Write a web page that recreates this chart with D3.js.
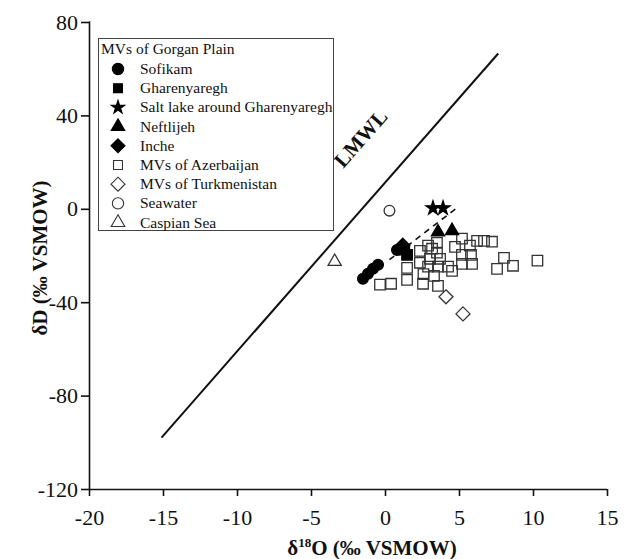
<!DOCTYPE html>
<html><head><meta charset="utf-8">
<script src="https://cdn.jsdelivr.net/npm/d3@7"></script>
<style>body{margin:0;background:#fff}svg{display:block}</style>
</head><body>
<script>
// ---- data ----
const sofikam = [[-1.49,-30.0],[-1.15,-27.8],[-0.81,-25.7],[-0.47,-24.0],[0.81,-17.6],[1.08,-16.7]];
const gharenyaregh = [[1.49,-19.7],[1.3,-17.5]];
const saltLake = [[3.24,0.3],[3.92,0.3]];
const neftlijeh = [[3.58,-10.0],[4.53,-9.4]];
const inche = [[1.2,-15.6]];
const azerbaijan = [[-0.34,-32.5],[0.41,-32.1],[1.49,-30.4],[1.49,-25.3],[2.36,-23.1],[2.57,-32.1],[3.31,-28.7],[3.58,-33.0],
  [2.91,-15.8],[3.51,-14.6],[3.18,-17.1],[3.51,-18.8],[3.04,-21.4],[3.72,-21.4],[2.91,-24.8],[3.58,-24.8],[4.26,-24.8],
  [4.53,-26.6],[4.73,-16.3],[5.20,-12.8],[5.74,-15.8],[5.20,-19.7],[5.81,-19.7],[5.20,-23.6],[5.88,-23.6],[6.22,-13.7],
  [6.69,-13.7],[7.23,-14.1],[8.04,-21.0],[7.57,-25.7],[8.65,-24.4],[10.3,-22.2],[2.36,-18.0],[2.6,-28.0]];
const turkmenistan = [[4.12,-37.7],[5.27,-45.0]];
const seawater = [[0.3,-0.8]];
const caspian = [[-3.4,-22.6]];
const lmwl = [[-15.1,-98],[7.65,66.5]];
const trend = [[0.3,-21.8],[4.9,0.6]];
const xTicks = [-20,-15,-10,-5,0,5,10,15];
const yTicks = [-120,-80,-40,0,40,80];
const legendLabels = ["Sofikam","Gharenyaregh","Salt lake around Gharenyaregh","Neftlijeh","Inche",
  "MVs of Azerbaijan","MVs of Turkmenistan","Seawater","Caspian Sea"];

// ---- chart ----
const W=626,H=559;
const FF="Liberation Serif, DejaVu Serif, serif";
const svg=d3.select("body").append("svg").attr("width",W).attr("height",H)
  .attr("font-family",FF);
const x=d3.scaleLinear().domain([-20,15]).range([89,607]);
const y=d3.scaleLinear().domain([-120,80]).range([489,22]);

const xa=svg.append("g").attr("transform","translate(0,489)")
  .call(d3.axisBottom(x).tickValues(xTicks).tickSize(7).tickPadding(13).tickFormat(d=>String(d)));
const ya=svg.append("g").attr("transform","translate(89,0)")
  .call(d3.axisLeft(y).tickValues(yTicks).tickSize(8).tickPadding(3).tickFormat(d=>String(d)));
[xa,ya].forEach(a=>{
  a.attr("font-family",FF).attr("font-size",22);
  a.selectAll("path").attr("stroke","#111").attr("stroke-width",1.6);
  a.selectAll("line").attr("stroke","#111").attr("stroke-width",1.6);
  a.selectAll("text").attr("fill","#111").attr("font-family",FF);
});
ya.select("path").attr("d","M0,"+y(80)+"H0.5V"+y(-120));
xa.select("path").attr("d","M"+x(-20)+",0.5H"+x(15));

// axis titles
const xt=svg.append("text").attr("x",372).attr("y",555).attr("text-anchor","middle").attr("font-family",FF)
  .attr("font-size",21).attr("font-weight","bold").attr("fill","#111");
xt.append("tspan").text("δ");
xt.append("tspan").text("18").attr("font-size",13).attr("dy",-8);
xt.append("tspan").text("O (‰ VSMOW)").attr("dy",8);
svg.append("text").attr("transform","translate(47,258) rotate(-90)").attr("text-anchor","middle").attr("font-family",FF)
  .attr("font-size",21).attr("font-weight","bold").attr("fill","#111").text("δD (‰ VSMOW)");

// lines
const line=d3.line().x(d=>x(d[0])).y(d=>y(d[1]));
svg.append("path").attr("d",line(lmwl)).attr("stroke","#111").attr("stroke-width",2).attr("fill","none");
svg.append("path").attr("d",line(trend)).attr("stroke","#111").attr("stroke-width",1.6)
  .attr("stroke-dasharray","6,5").attr("fill","none");
const ang=Math.atan2(y(lmwl[1][1])-y(lmwl[0][1]),x(lmwl[1][0])-x(lmwl[0][0]))*180/Math.PI;
svg.append("text").attr("transform",`translate(366,143) rotate(${ang})`).attr("text-anchor","middle").attr("font-family",FF)
  .attr("font-size",21).attr("font-weight","bold").attr("fill","#111").text("LMWL");

// symbols
const diamondPath=s=>`M0,${-s}L${s},0L0,${s}L${-s},0Z`;
const sym={
  circle:d3.symbol().type(d3.symbolCircle).size(90)(),
  square:d3.symbol().type(d3.symbolSquare).size(110)(),
  star:d3.symbol().type(d3.symbolStar).size(60)(),
  triangle:d3.symbol().type(d3.symbolTriangle).size(75)(),
  diamond:diamondPath(7)
};
const series=[
  {d:sofikam,s:"circle",f:"#000"},
  {d:gharenyaregh,s:"square",f:"#000"},
  {d:saltLake,s:"star",f:"#000"},
  {d:neftlijeh,s:"triangle",f:"#000"},
  {d:inche,s:"diamond",f:"#000"},
  {d:azerbaijan,s:"square",f:"none"},
  {d:turkmenistan,s:"diamond",f:"none"},
  {d:seawater,s:"circle",f:"none"},
  {d:caspian,s:"triangle",f:"none"}
];
const drawOrder=[5,6,7,8,0,1,2,3,4];
drawOrder.forEach(i=>{
  const se=series[i];
  svg.append("g").selectAll("path").data(se.d).join("path")
    .attr("d",sym[se.s]).attr("transform",d=>`translate(${x(d[0])},${y(d[1])})`)
    .attr("fill",se.f==="none"?"#fff":se.f).attr("fill-opacity",se.f==="none"?0.0:1)
    .attr("stroke",se.f==="none"?"#333":"#000").attr("stroke-width",1.3);
});

// legend
const lg=svg.append("g").attr("font-family",FF);
lg.append("rect").attr("x",98.5).attr("y",38.5).attr("width",235).attr("height",192)
  .attr("fill","#fff").attr("stroke","#444").attr("stroke-width",1);
lg.append("text").attr("x",101).attr("y",54).attr("font-size",15.5).attr("fill","#111").attr("font-family",FF).text("MVs of Gorgan Plain");
const legSym={circle:d3.symbol().type(d3.symbolCircle).size(100)(),
  square:d3.symbol().type(d3.symbolSquare).size(80)(),
  star:d3.symbol().type(d3.symbolStar).size(55)(),
  triangle:d3.symbol().type(d3.symbolTriangle).size(80)(),
  diamond:diamondPath(7)};
legendLabels.forEach((t,i)=>{
  const cy=69+i*19.2;
  const se=series[i];
  lg.append("path").attr("d",legSym[se.s]).attr("transform",`translate(118,${cy})`)
    .attr("fill",se.f==="none"?"#fff":"#000").attr("stroke",se.f==="none"?"#333":"#000").attr("stroke-width",1.1);
  lg.append("text").attr("x",140).attr("y",cy+5).attr("font-size",15.5).attr("fill","#111").attr("font-family",FF).text(t);
});
</script>
</body></html>
